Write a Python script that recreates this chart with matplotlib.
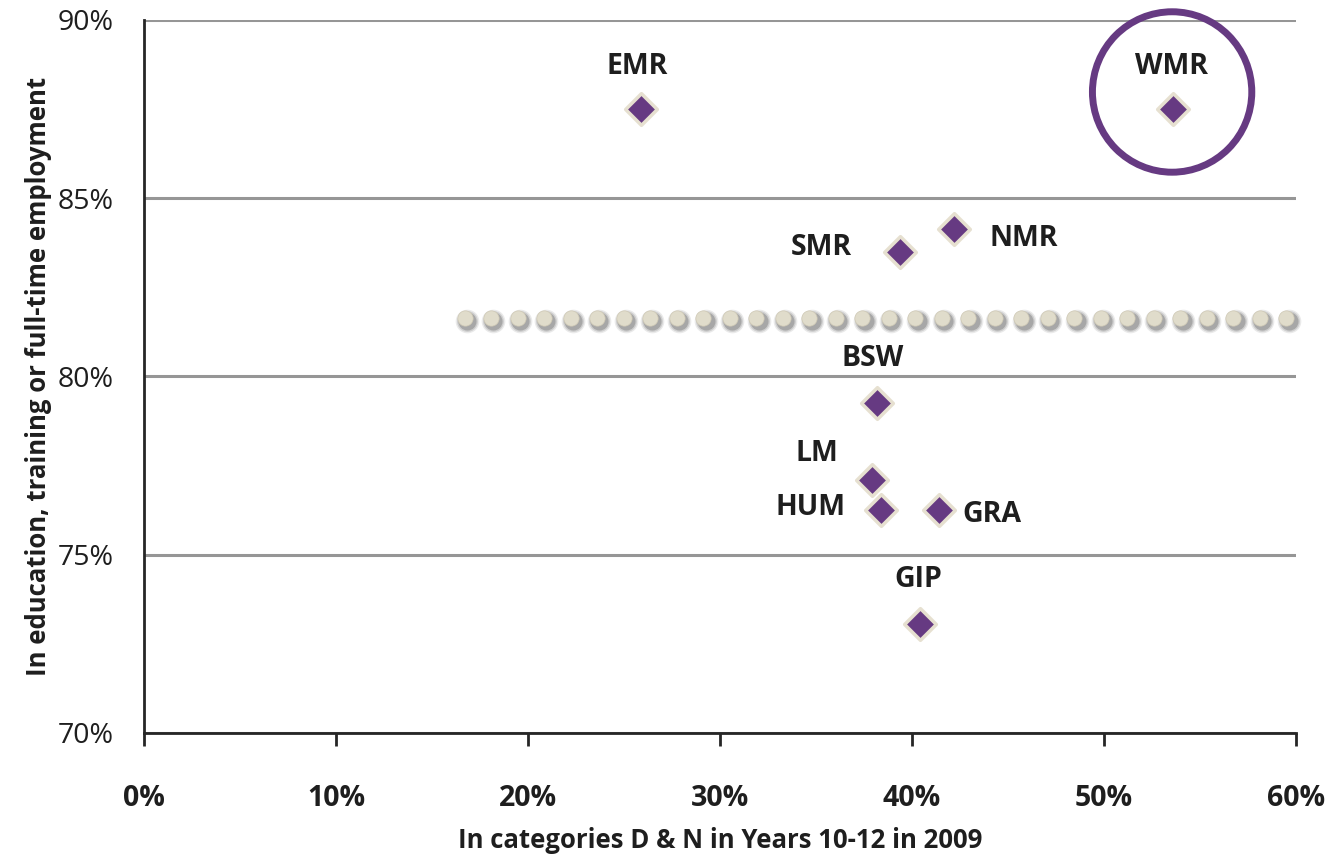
import matplotlib
matplotlib.use("Agg")
import matplotlib.pyplot as plt
from matplotlib.patches import Ellipse
from matplotlib.ticker import FuncFormatter
import numpy as np

plt.rcParams['font.family'] = ['Open Sans', 'DejaVu Sans']

# Data
regions = ["EMR", "WMR", "NMR", "SMR", "BSW", "LM", "HUM", "GRA", "GIP"]
pct_dn = [25.9, 53.6, 42.2, 39.4, 38.2, 37.9, 38.4, 41.4, 40.4]
pct_ete = [87.5, 87.5, 84.15, 83.5, 79.25, 77.1, 76.25, 76.25, 73.05]
average_ete = 81.65
avg_x_start, avg_x_end = 16.7, 59.5
n_avg_dots = 32
x_ticks = [0, 10, 20, 30, 40, 50, 60]
y_ticks = [70, 75, 80, 85, 90]

# label offsets in pixels (dx, dy) from point
label_offsets = {
    "EMR": (-4, 43), "WMR": (-2, 43), "NMR": (70, -10), "SMR": (-79, 4),
    "BSW": (-5, 45), "LM": (-55, 26), "HUM": (-71, 3), "GRA": (53, -4), "GIP": (-1, 45),
}

purple = "#663a82"
edge = "#e6e0d0"
txt = "#1e1e1e"

fig = plt.figure(figsize=(13.41, 8.57), dpi=100)
ax = fig.add_axes([0.1074, 0.1447, 0.859, 0.8320])
ax.set_xlim(0, 60)
ax.set_ylim(70, 90)

ax.set_xticks(x_ticks)
ax.set_yticks(y_ticks)
ax.grid(axis='y', color='#969696', linewidth=2.2, zorder=0)
ax.set_axisbelow(True)
for s in ['top', 'right']:
    ax.spines[s].set_visible(False)
for s in ['left', 'bottom']:
    ax.spines[s].set_linewidth(2)
    ax.spines[s].set_color('#262626')
ax.xaxis.set_major_formatter(FuncFormatter(lambda v, p: f"{v:.0f}%"))
ax.yaxis.set_major_formatter(FuncFormatter(lambda v, p: f"{v:.0f}%"))
ax.tick_params(axis='x', direction='out', length=9, width=2, color='#262626',
               pad=28, labelsize=20.5, labelcolor=txt)
ax.tick_params(axis='y', length=0, pad=22, labelsize=20.5, labelcolor=txt)
for lab in ax.get_xticklabels():
    lab.set_fontweight('bold')

ax.set_xlabel("In categories D & N in Years 10-12 in 2009", fontsize=18.5,
              fontweight='bold', color=txt, labelpad=10)
ax.set_ylabel("In education, training or full-time employment", fontsize=18.5,
              fontweight='bold', color=txt, labelpad=4)

# average dotted line with shadow
xs = np.linspace(avg_x_start, avg_x_end, n_avg_dots)
ys = np.full_like(xs, average_ete)
for a, ms in [(0.10, 17), (0.15, 15), (0.25, 13)]:
    ax.plot(xs + 0.12, ys - 0.10, 'o', ms=ms, color='#333333', alpha=a,
            mec='none', zorder=3, clip_on=False)
ax.plot(xs, ys, 'o', ms=11, color='#e0dccb', mec='#cfc9b5', mew=0.5, zorder=4,
        clip_on=False)

# points
ax.scatter(pct_dn, pct_ete, marker='D', s=260, color=purple, edgecolor=edge,
           linewidth=2.5, zorder=5)

for r, x, y in zip(regions, pct_dn, pct_ete):
    dx, dy = label_offsets[r]
    ax.annotate(r, (x, y), xytext=(dx * 0.72, dy * 0.72), textcoords='offset points',
                ha='center', va='center', fontsize=20.5, fontweight='bold',
                color=txt, zorder=6)

# circle highlight around WMR
wi = regions.index("WMR")
ell = Ellipse((pct_dn[wi] - 0.05, pct_ete[wi] + 0.48), width=8.3, height=4.5,
              fill=False, edgecolor=purple, linewidth=5, zorder=6, clip_on=False)
ax.add_patch(ell)

fig.savefig("out.png", dpi=100, facecolor='white')
